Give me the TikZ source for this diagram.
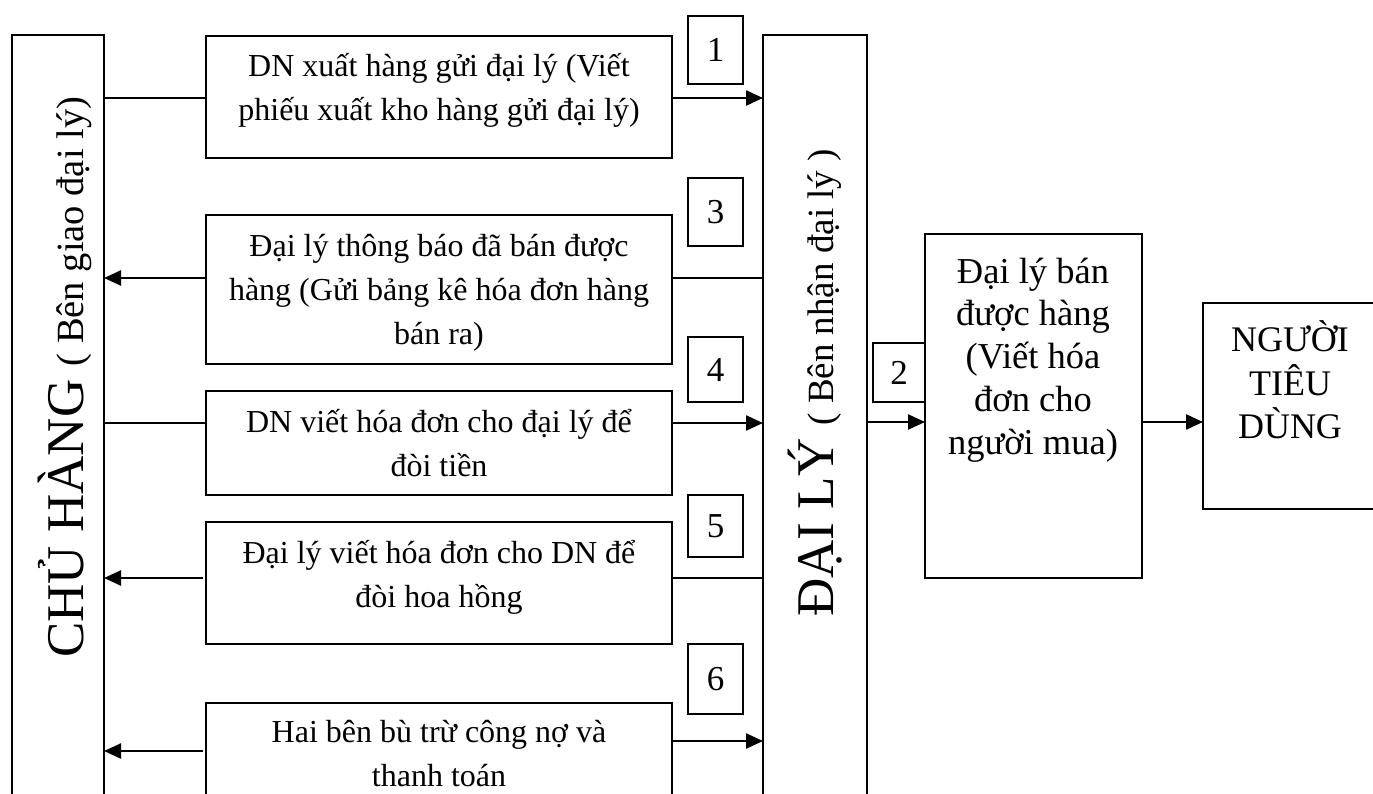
\documentclass[tikz,border=0pt]{standalone}
\usepackage{fontspec}
\setmainfont{Liberation Serif}
\usetikzlibrary{arrows.meta}
\newcommand{\tl}[1]{\begin{tabular}{@{}c@{}}#1\end{tabular}}
\begin{document}
\begin{tikzpicture}[x=1pt,y=-1pt,
  box/.style={draw,line width=2pt,inner sep=0pt,outer sep=0pt,anchor=north west},
  numbox/.style={box,minimum width=55pt,font=\fontsize{35}{40}\selectfont},
  txt/.style={inner sep=0pt,font=\fontsize{32}{44}\selectfont},
  bigtxt/.style={inner sep=0pt,rotate=90,anchor=base west},
  conn/.style={line width=1.6pt},
  arr/.style={line width=2.4pt,-{Triangle[length=17pt,width=15pt]}},
]
\useasboundingbox (0,0) rectangle (1373,794);
% main boxes
\node[box,minimum width=92pt,minimum height=790pt] (ch) at (12,35) {};
\node[box,minimum width=104pt,minimum height=790pt] (dl) at (763,35) {};
\node[box,minimum width=466pt,minimum height=122pt] (b1) at (206,36) {};
\node[box,minimum width=466pt,minimum height=149pt] (b3) at (206,215) {};
\node[box,minimum width=466pt,minimum height=104pt] (b4) at (206,391) {};
\node[box,minimum width=466pt,minimum height=122pt] (b5) at (206,522) {};
\node[box,minimum width=466pt,minimum height=130pt] (b6) at (206,703) {};
\node[box,minimum width=217pt,minimum height=344pt] (sb) at (925,234) {};
\node[box,minimum width=185pt,minimum height=206pt] (nt) at (1203,303) {};
% number boxes
\node[numbox,minimum height=68pt] (n1) at (688,16) {1};
\node[numbox,minimum height=68pt] (n3) at (688,178) {3};
\node[numbox,minimum height=65pt] (n4) at (688,337) {4};
\node[numbox,minimum height=62pt] (n5) at (688,495) {5};
\node[numbox,minimum height=70pt] (n6) at (688,644) {6};
\node[numbox,minimum width=52pt,minimum height=59pt] (n2) at (873,343) {2};
% texts
\node[txt] (t1) at (439,90) {\tl{DN xuất hàng gửi đại lý (Viết\\phiếu xuất kho hàng gửi đại lý)}};
\node[txt] (t3) at (439,292) {\tl{Đại lý thông báo đã bán được\\hàng (Gửi bảng kê hóa đơn hàng\\bán ra)}};
\node[txt] (t4) at (439,446) {\tl{DN viết hóa đơn cho đại lý để\\đòi tiền}};
\node[txt] (t5) at (439,577) {\tl{Đại lý viết hóa đơn cho DN để\\đòi hoa hồng}};
\node[txt] (t6) at (439,756) {\tl{Hai bên bù trừ công nợ và\\thanh toán}};
\node[inner sep=0pt,font=\fontsize{36.5}{42.75}\selectfont] (ts) at (1033,360) {\tl{Đại lý bán\\được hàng\\(Viết hóa\\đơn cho\\người mua)}};
\node[inner sep=0pt,font=\fontsize{36}{42}\selectfont] (tn) at (1290,386) {\tl{NGƯỜI\\TIÊU\\DÙNG}};
\node[bigtxt] (tch) at (83,658) {\fontsize{53}{60}\selectfont CHỦ HÀNG \fontsize{38.5}{44}\selectfont( Bên giao đại lý)};
\node[bigtxt] (tdl) at (833,617) {\fontsize{53}{60}\selectfont ĐẠI LÝ \fontsize{37}{44}\selectfont( Bên nhận đại lý )};
% row coordinates
\coordinate (r1) at (0,98);
\coordinate (r3) at (0,278);
\coordinate (r4) at (0,423);
\coordinate (r5) at (0,578);
\coordinate (r6a) at (0,741);
\coordinate (r6b) at (0,751);
\coordinate (r2) at (0,422);
% connectors
\draw[conn] (ch.east |- r1) -- (b1.west |- r1);
\draw[arr] (b1.east |- r1) -- (dl.west |- r1);
\draw[arr] (b3.west |- r3) -- (ch.east |- r3);
\draw[conn] (dl.west |- r3) -- (b3.east |- r3);
\draw[conn] (ch.east |- r4) -- (b4.west |- r4);
\draw[arr] (b4.east |- r4) -- (dl.west |- r4);
\draw[arr,shorten <=3pt] (b5.west |- r5) -- (ch.east |- r5);
\draw[conn] (dl.west |- r5) -- (b5.east |- r5);
\draw[arr,shorten <=3pt] (b6.west |- r6b) -- (ch.east |- r6b);
\draw[arr] (b6.east |- r6a) -- (dl.west |- r6a);
\draw[arr] (dl.east |- r2) -- (sb.west |- r2);
\draw[arr] (sb.east |- r2) -- (nt.west |- r2);
\end{tikzpicture}
\end{document}
